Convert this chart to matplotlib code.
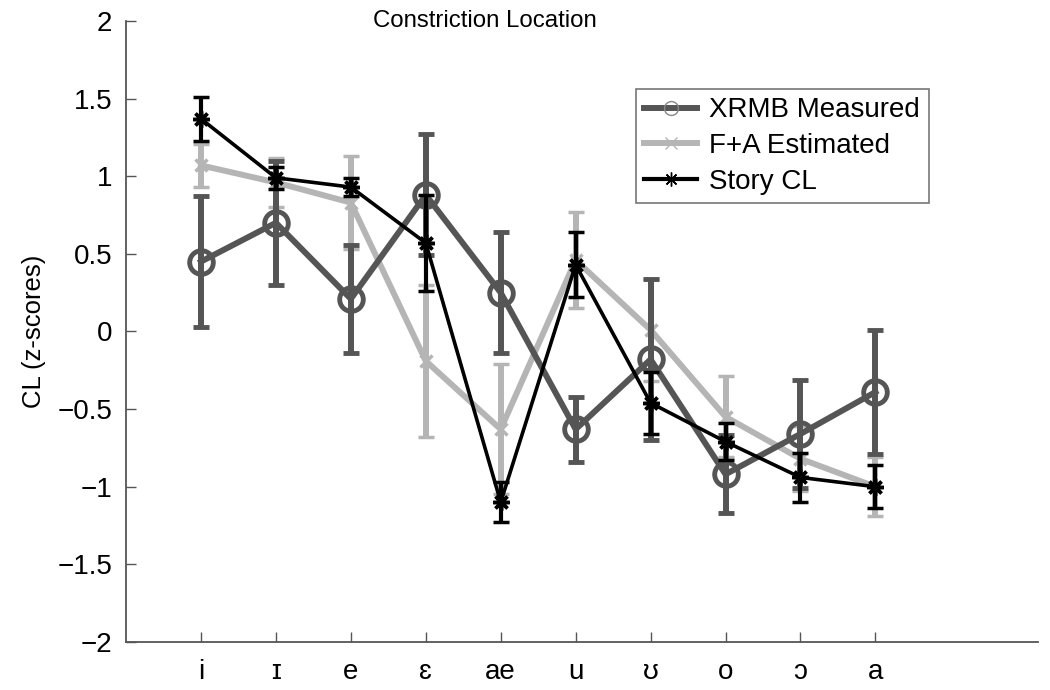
import numpy as np
import matplotlib
matplotlib.use("Agg")
import matplotlib.pyplot as plt
from matplotlib.lines import Line2D

plt.rcParams['font.family'] = ['Liberation Sans', 'DejaVu Sans']

# --- data ---
vowels = ["i", "\u026a", "e", "\u025b", "ae", "u", "\u028a", "o", "\u0254", "a"]

xrmb_mean = [0.45, 0.70, 0.21, 0.88, 0.25, -0.63, -0.18, -0.92, -0.66, -0.39]
xrmb_err = [0.42, 0.40, 0.35, 0.39, 0.39, 0.21, 0.52, 0.25, 0.35, 0.40]

fa_mean = [1.07, 0.96, 0.83, -0.19, -0.63, 0.46, 0.01, -0.55, -0.82, -1.00]
fa_err = [0.14, 0.16, 0.30, 0.49, 0.42, 0.31, 0.33, 0.26, 0.21, 0.19]

story_mean = [1.37, 0.99, 0.93, 0.57, -1.10, 0.43, -0.46, -0.71, -0.94, -1.00]
story_err = [0.14, 0.07, 0.06, 0.31, 0.13, 0.21, 0.20, 0.12, 0.16, 0.14]

x = np.arange(1, len(vowels) + 1)

dark = "#555555"
light = "#b5b5b5"
asterisk = (8, 2, 0)  # matlab style '*'

fig = plt.figure(figsize=(10.5, 6.9), dpi=100)
ax = fig.add_axes([0.12, 0.0696, 0.8686, 0.9])

# light series underneath, then dark, black on top
ax.errorbar(x, fa_mean, yerr=fa_err, color=light, lw=4.3, marker="x",
            ms=9, mew=2.5, elinewidth=4.3, capsize=6, capthick=4, zorder=2)
ax.errorbar(x, xrmb_mean, yerr=xrmb_err, color=dark, lw=4.3, marker="o",
            ms=17, mfc="none", mec=dark, mew=3.5, elinewidth=4.3,
            capsize=6, capthick=4, zorder=3)
ax.errorbar(x, story_mean, yerr=story_err, color="black", lw=2.6,
            marker=asterisk, ms=12, mew=2.5, elinewidth=3, capsize=6,
            capthick=3.5, zorder=4)

ax.set_xlim(0, 12.17)
ax.set_ylim(-2, 2)
ax.set_xticks(x)
ax.set_xticklabels(vowels)
ax.set_yticks([-2, -1.5, -1, -0.5, 0, 0.5, 1, 1.5, 2])
ax.set_yticklabels(["\u22122", "\u22121.5", "\u22121", "\u22120.5", "0",
                    "0.5", "1", "1.5", "2"])

ax.spines["top"].set_visible(False)
ax.spines["right"].set_visible(False)
for s in ["left", "bottom"]:
    ax.spines[s].set_color("#555555")
    ax.spines[s].set_linewidth(1.3)
ax.tick_params(axis="both", direction="in", color="#555555", width=1.0,
               labelsize=20, length=7)
ax.tick_params(axis="x", pad=12)
ax.tick_params(axis="y", pad=10)

ax.set_ylabel("CL (z-scores)", fontsize=18.5, labelpad=8)

fig.text(485 / 1050, 1 - 21 / 690, "Constriction Location", fontsize=17.3,
         ha="center", va="center")

# legend shows only line + marker
handles = [
    Line2D([], [], color=dark, lw=4.3, marker="o", ms=10, mfc="none",
           mec="#888888", mew=1),
    Line2D([], [], color=light, lw=4.3, marker="x", ms=8, mew=1),
    Line2D([], [], color="black", lw=3, marker=asterisk, ms=10, mew=1),
]
leg = ax.legend(handles, ["XRMB Measured", "F+A Estimated", "Story CL"],
                loc="upper left", bbox_to_anchor=(0.559, 0.8905), fontsize=20,
                frameon=True, fancybox=False, handlelength=1.9,
                borderpad=0.3, labelspacing=0.35, handletextpad=0.45,
                borderaxespad=0)
leg.get_frame().set_edgecolor("#555555")
leg.get_frame().set_linewidth(1.2)

fig.savefig("out.png", dpi=100)
